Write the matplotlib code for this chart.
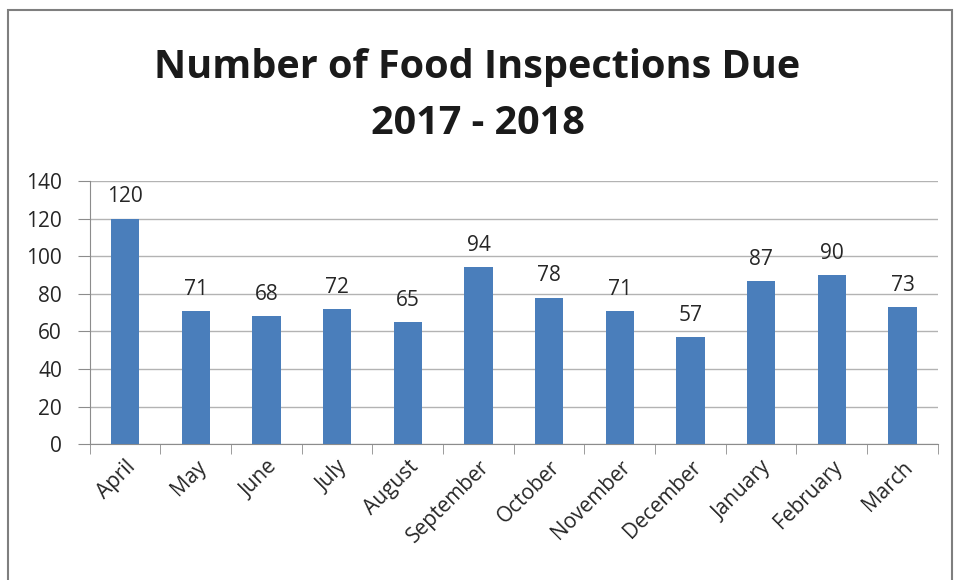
import numpy as np
import matplotlib.pyplot as plt
from matplotlib.patches import Rectangle

months = ['April', 'May', 'June', 'July', 'August', 'September', 'October',
          'November', 'December', 'January', 'February', 'March']
counts = [120, 71, 68, 72, 65, 94, 78, 71, 57, 87, 90, 73]
yticks = [0, 20, 40, 60, 80, 100, 120, 140]

plt.rcParams['font.family'] = ['Open Sans', 'DejaVu Sans']

fig = plt.figure(figsize=(9.55, 5.8), dpi=100)
ax = fig.add_axes([0.094, 0.234, 0.888, 0.454])

x = np.arange(len(months))
ax.bar(x, counts, width=0.4, color='#4a7ebb', zorder=3)
for xi, v in zip(x, counts):
    ax.annotate(str(v), (xi, v), xytext=(0, 8), textcoords='offset points',
                ha='center', va='bottom', fontsize=15, color='#262626')

ax.set_xlim(-0.5, len(months) - 0.5)
ax.set_ylim(0, 140)
ax.set_yticks(yticks)
ax.tick_params(axis='y', length=9, color='#8c8c8c', labelsize=15, labelcolor='#262626', pad=11)
ax.set_xticks(x)
ax.set_xticklabels(months, rotation=45, ha='right', rotation_mode='anchor',
                   fontsize=15, color='#262626')
ax.tick_params(axis='x', length=0, pad=9)
ax.set_xticks(np.arange(-0.5, len(months)), minor=True)
ax.tick_params(axis='x', which='minor', length=7, color='#8c8c8c')
ax.grid(axis='y', color='#b3b3b3', lw=1, zorder=0)
for s in ['top', 'right']:
    ax.spines[s].set_visible(False)
ax.spines['left'].set_color('#8c8c8c')
ax.spines['bottom'].set_color('#8c8c8c')

fig.text(0.5, 0.883, 'Number of Food Inspections Due', ha='center', va='center',
         fontsize=28.5, fontweight='bold', color='#1a1a1a')
fig.text(0.5, 0.787, '2017 - 2018', ha='center', va='center',
         fontsize=28.5, fontweight='bold', color='#1a1a1a')

fig.patches.append(Rectangle((8/955, -0.01), 1 - 11/955, 1 - 10/580 + 0.01, transform=fig.transFigure,
                             fill=False, edgecolor='#7f7f7f', lw=1.5))

plt.savefig('out.png', dpi=100)
